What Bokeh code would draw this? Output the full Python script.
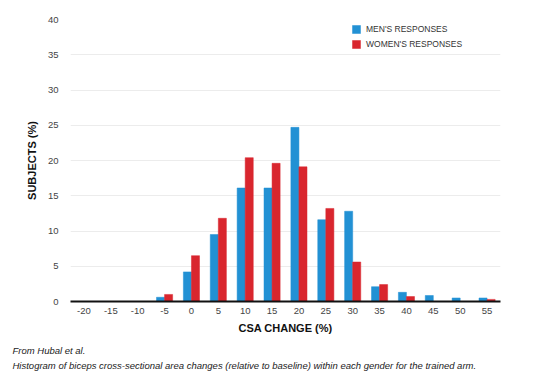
from bokeh.plotting import figure
from bokeh.models import FactorRange, Legend, LegendItem, Title, ColumnDataSource
from bokeh.transform import dodge
from bokeh.embed import file_html
from bokeh.resources import INLINE

categories = ["-20", "-15", "-10", "-5", "0", "5", "10", "15", "20", "25", "30", "35", "40", "45", "50", "55"]
men = [0, 0, 0, 0.6, 4.2, 9.5, 16.1, 16.1, 24.7, 11.6, 12.8, 2.1, 1.3, 0.85, 0.5, 0.5]
women = [0, 0, 0, 1.0, 6.5, 11.8, 20.4, 19.6, 19.1, 13.2, 5.6, 2.4, 0.7, 0, 0, 0.3]
y_ticks = [0, 5, 10, 15, 20, 25, 30, 35, 40]
caption = ("From Hubal et al.\n"
           "Histogram of biceps cross-sectional area changes (relative to baseline) "
           "within each gender for the trained arm.")

FONT = "Liberation Sans"
BLUE = "#2291d4"
RED = "#d9262e"

src = ColumnDataSource(dict(cat=categories, men=men, women=women))

p = figure(width=525, height=378, x_range=FactorRange(*categories), y_range=(0, 40),
           output_backend="svg", toolbar_location=None,
           min_border_left=70, min_border_right=25, min_border_top=19, min_border_bottom=0)
p.outline_line_color = None

rm = p.vbar(x=dodge("cat", -0.15, range=p.x_range), top="men", width=0.3, source=src,
            fill_color=BLUE, line_color=BLUE, line_width=0.5)
rw = p.vbar(x=dodge("cat", 0.15, range=p.x_range), top="women", width=0.3, source=src,
            fill_color=RED, line_color=RED, line_width=0.5)

p.yaxis.ticker = y_ticks
p.yaxis.axis_line_color = None
p.yaxis.major_tick_line_color = None
p.yaxis.minor_tick_line_color = None
p.yaxis.major_label_standoff = 6
p.yaxis.axis_label = "SUBJECTS (%)"
p.yaxis.axis_label_standoff = 7

p.xaxis.axis_line_color = "#111111"
p.xaxis.axis_line_width = 2.2
p.xaxis.major_tick_line_color = None
p.xaxis.minor_tick_line_color = None
p.xaxis.major_label_standoff = 0
p.xaxis.axis_label = "CSA CHANGE (%)"
p.xaxis.axis_label_standoff = 5

for ax in (p.xaxis[0], p.yaxis[0]):
    ax.major_label_text_font = FONT
    ax.major_label_text_font_size = "9.5px"
    ax.major_label_text_color = "#444444"
    ax.axis_label_text_font = FONT
    ax.axis_label_text_font_size = "11px"
    ax.axis_label_text_font_style = "bold"
    ax.axis_label_text_color = "#111111"

p.xgrid.grid_line_color = None
p.ygrid.grid_line_color = "#ececec"
p.ygrid.grid_line_width = 1

legend = Legend(items=[LegendItem(label="MEN'S RESPONSES", renderers=[rm]),
                       LegendItem(label="WOMEN'S RESPONSES", renderers=[rw])],
                location=(281, 252), border_line_color=None, background_fill_alpha=0,
                padding=0, margin=0, spacing=5, glyph_width=10, glyph_height=10,
                label_height=10, label_standoff=5,
                label_text_font=FONT, label_text_font_size="8.5px", label_text_color="#333333")
p.add_layout(legend, "center")

t1 = Title(text=caption, text_font=FONT, text_font_size="9.5px",
           text_font_style="italic", text_color="#222222", align="left", offset=-58,
           standoff=14, text_line_height=1.4)
p.add_layout(t1, "below")

open("out.html", "w").write(file_html(p, INLINE))
